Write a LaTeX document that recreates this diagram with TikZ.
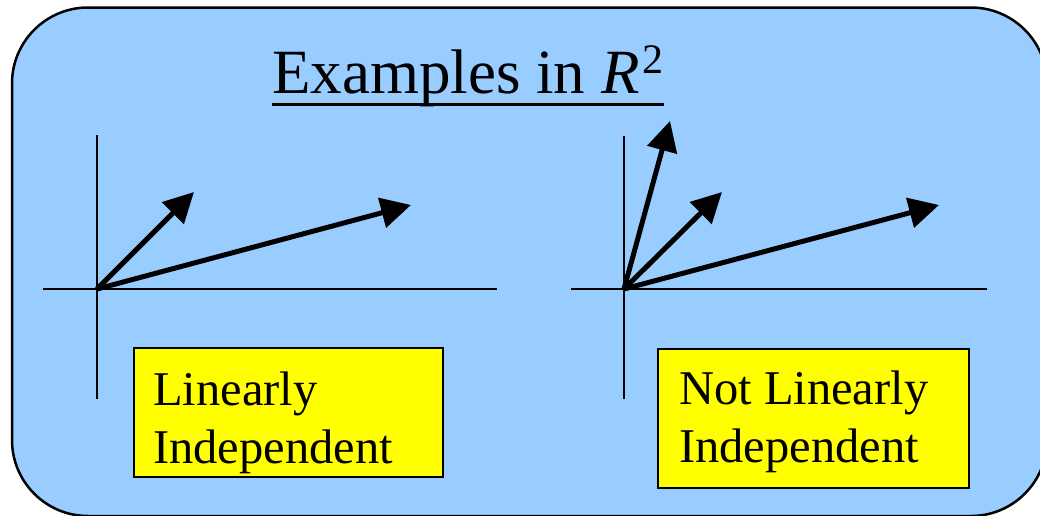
\documentclass[tikz,border=0pt]{standalone}
\usepackage{fontspec}
\setmainfont{Liberation Serif}
\usetikzlibrary{arrows.meta,calc}
\definecolor{panelblue}{HTML}{99CCFF}
\definecolor{boxyellow}{HTML}{FFFF00}

\begin{document}
\begin{tikzpicture}[x=1pt,y=-1pt,
  axis/.style={line width=2pt},
  vec/.style={line width=5pt,-{Triangle[length=30pt,width=30pt]}},
  ybox/.style={draw,line width=2pt,fill=boxyellow,anchor=north west,inner sep=0},
  lbl/.style={anchor=north west,inner sep=0,align=left,font=\fontsize{48.5}{58}\selectfont}]
\useasboundingbox (0,0) rectangle (1040,515);
\clip (0,0) rectangle (1040,515);
% panel
\draw[line width=2.5pt,fill=panelblue,rounded corners=76pt] (12,7.5) rectangle (1047,516);
\node[anchor=base west,inner sep=0,font=\fontsize{63}{70}\selectfont] (title) at (272,93) {Examples in \textit{R}\kern3pt\raisebox{20pt}{\fontsize{42}{44}\selectfont 2}};
\draw[line width=3pt] ($(title.base west)+(0,11)$) -- ($(title.base east)+(0,11)$);
% left axes
\coordinate (O1) at (97,289);
\coordinate (y1t) at (97,135);
\coordinate (y1b) at (97,399);
\coordinate (x1l) at (43,289);
\coordinate (x1r) at (497,289);
\draw[axis] (y1t) -- (y1b);
\draw[axis] (x1l) -- (x1r);
\coordinate (a1) at (194,192);
\coordinate (b1) at (411,205);
\draw[vec] (O1) -- (a1);
\draw[vec] (O1) -- (b1);
% right axes
\coordinate (O2) at (624,289);
\coordinate (y2t) at (624,136);
\coordinate (y2b) at (624,399);
\coordinate (x2l) at (571,289);
\coordinate (x2r) at (987,289);
\draw[axis] (y2t) -- (y2b);
\draw[axis] (x2l) -- (x2r);
\coordinate (a2) at (670,121);
\coordinate (b2) at (722,192);
\coordinate (c2) at (939,205);
\draw[vec] (O2) -- (a2);
\draw[vec] (O2) -- (b2);
\draw[vec] (O2) -- (c2);
% labels
\node[ybox,minimum width=309pt,minimum height=129pt] (libox) at (133,347) {};
\node[lbl] (litext) at (153,372) {Linearly\\Independent};
\node[ybox,minimum width=311pt,minimum height=139pt] (nlbox) at (657,348) {};
\node[lbl] (nltext) at (679,371) {Not Linearly\\Independent};
\end{tikzpicture}
\end{document}
